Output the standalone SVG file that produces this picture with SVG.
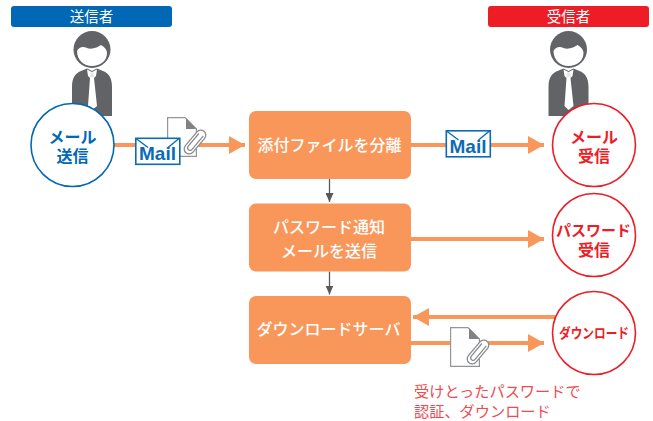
<svg xmlns="http://www.w3.org/2000/svg" xmlns:xlink="http://www.w3.org/1999/xlink" width="653" height="421" viewBox="0 0 653 421">
<style>
text{font-family:"Noto Sans CJK JP","Liberation Sans",sans-serif;text-anchor:middle}
.banner{font-size:14.500px;fill:#fff}
.box{fill:#f9975b}
.boxt{font-size:16px;font-weight:500;fill:#fff}
.blue{font-family:"Liberation Sans","Noto Sans CJK JP",sans-serif;font-size:16px;font-weight:700;fill:#0068b4}
.red{font-family:"Liberation Sans","Noto Sans CJK JP",sans-serif;font-size:16px;font-weight:700;fill:#ee1c25}
.c1{fill:#fff;stroke:#0068b4;stroke-width:1.6}
.c2{fill:#fff;stroke:#ee1c25;stroke-width:1.6}
.ln{stroke:#f9975b;stroke-width:4;fill:none}
.gl{stroke:#58595b;stroke-width:1.3;fill:none}
.note{font-size:15.200px;fill:#ef4a50;text-anchor:start}
.mail{font-family:"Liberation Sans",sans-serif;font-size:19px;font-weight:700;fill:#0b6cb5}
</style>
<defs>
<marker id="oa" markerUnits="userSpaceOnUse" markerWidth="16" markerHeight="18" refX="16" refY="9" orient="auto"><path d="M0 0L16 9L0 18Z" fill="#f9975b"/></marker>
<marker id="ga" markerUnits="userSpaceOnUse" markerWidth="9" markerHeight="8" refX="9" refY="4" orient="auto"><path d="M0 0L9 4L0 8Z" fill="#58595b"/></marker>
<g id="person">
<circle cx="92" cy="49.5" r="18.5" fill="#626366"/>
<path d="M77 51C79 47 83 46 87 48C92 50 98 47 101 45C105 47 107 50 107 53C107 61 100 66 92 66C84 66 77 60 77 51Z" fill="#fff"/>
<path d="M72 116V87C72 77 76 73 81 71L87 68.500L92 71L97 68.500L103 71C108 73 112 77 112 87V116Z" fill="#626366"/>
<path d="M87 69.500L92 72L97 69.500L96 76L94 78L97 106L92 110L88 106L90 78L88 76Z" fill="#fff"/>
<path d="M90.500 72.500H93.500L94.500 77H89.500Z" fill="#e6e7e8"/>
</g>
<g id="env">
<rect x="0.800" y="0.800" width="44" height="26" fill="#fff" stroke="#0b6cb5" stroke-width="1.600"/>
<path d="M1 1L13 10M44 1L33 10" stroke="#0b6cb5" stroke-width="1.400" fill="none"/>
<text class="mail" x="22.500" y="22.500">Mail</text>
</g>
<g id="doc">
<path d="M0.600 0.600H18L29.400 12V39.400H0.600Z" fill="#fff" stroke="#939598" stroke-width="1.200"/>
<path d="M19 1L29.500 12H19Z" fill="#808285"/>
<g transform="translate(28 25) rotate(40)">
<rect x="-5" y="-14" width="10" height="28" rx="5" fill="#fff" stroke="#8a8c8f" stroke-width="1.300"/>
<path d="M2.500 -10V7.500A2.500 2.500 0 0 1 -2.500 7.500V-9" fill="none" stroke="#8a8c8f" stroke-width="1.300"/>
</g>
</g>
</defs>

<g id="connectors">
<path class="ln" d="M113 145H245" marker-end="url(#oa)"/>
<path class="ln" d="M411 145H544" marker-end="url(#oa)"/>
<path class="ln" d="M411 239H544" marker-end="url(#oa)"/>
<path class="ln" d="M555 317H413" marker-end="url(#oa)"/>
<path class="ln" d="M411 343H544" marker-end="url(#oa)"/>
<path class="gl" d="M329.500 179V202" marker-end="url(#ga)"/>
<path class="gl" d="M329.500 271.500V294.500" marker-end="url(#ga)"/>
</g>

<g id="sender-banner"><rect x="11" y="6" width="161" height="21" rx="3" fill="#0068b4"/><text class="banner" x="91.500" y="21.500">送信者</text></g>
<g id="receiver-banner"><rect x="488" y="6" width="161" height="21" rx="3" fill="#ee1c25"/><text class="banner" x="568.500" y="21.500">受信者</text></g>
<use id="sender-person" xlink:href="#person" href="#person"/>
<use id="receiver-person" xlink:href="#person" href="#person" x="476.500"/>

<g id="send-mail"><circle class="c1" cx="72.500" cy="145" r="41.500"/><text class="blue" x="72.500" y="142.500">メール</text><text class="blue" x="72.500" y="161.500">送信</text></g>
<g id="receive-mail"><circle class="c2" cx="594" cy="145" r="41.500"/><text class="red" x="594" y="142.500">メール</text><text class="red" x="594" y="161.500">受信</text></g>
<g id="receive-password"><circle class="c2" cx="594" cy="235" r="41.500"/><text class="red" x="593.500" y="236" style="font-size:15px">パスワード</text><text class="red" x="594" y="255.500">受信</text></g>
<g id="download"><circle class="c2" cx="594" cy="333" r="41.500"/><text class="red" x="594" y="338" style="font-size:14px" textLength="70" lengthAdjust="spacingAndGlyphs">ダウンロード</text></g>

<g id="split"><rect class="box" x="249" y="111" width="162" height="68" rx="7"/><text class="boxt" x="329.500" y="151">添付ファイルを分離</text></g>
<g id="notify"><rect class="box" x="249" y="203.500" width="162" height="68" rx="7"/><text class="boxt" x="329" y="232.500">パスワード通知</text><text class="boxt" x="329" y="256.500">メールを送信</text></g>
<g id="server"><rect class="box" x="249" y="296" width="162" height="68" rx="7"/><text class="boxt" x="328.500" y="334.500">ダウンロードサーバ</text></g>

<use xlink:href="#doc" href="#doc" x="167" y="117"/>
<use xlink:href="#env" href="#env" x="135" y="137.500"/>
<use xlink:href="#env" href="#env" x="445.500" y="130"/>
<use xlink:href="#doc" href="#doc" x="450" y="327"/>

<g id="note"><text class="note" x="414" y="396.500">受けとったパスワードで</text><text class="note" x="414" y="417">認証、ダウンロード</text></g>
</svg>
